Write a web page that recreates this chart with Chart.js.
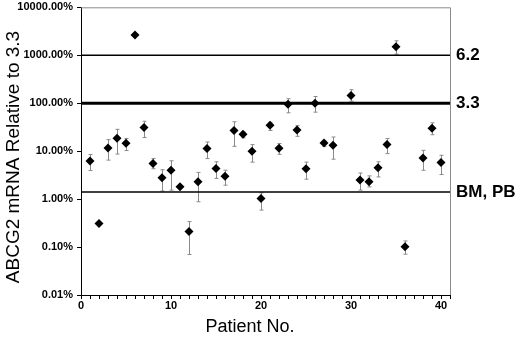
<!DOCTYPE html>
<html>
<head>
<meta charset="utf-8">
<script src="https://cdn.jsdelivr.net/npm/chart.js@4/dist/chart.umd.min.js"></script>
<style>
    html, body { margin: 0; padding: 0; background: #fff; }
    #wrap { width: 520px; height: 337px; position: relative; }
</style>
</head>
<body>
<div id="wrap"><canvas id="abcgChart"></canvas></div>
<script>
// patients 29 and 37 have no value in the figure
const patients = [1, 2, 3, 4, 5, 6, 7, 8, 9, 10, 11, 12, 13, 14, 15, 16, 17, 18, 19, 20,
    21, 22, 23, 24, 25, 26, 27, 28, 30, 31, 32, 33, 34, 35, 36, 38, 39, 40];
const expression = [6.2, 0.31, 11.7, 18.5, 14.6, 2650, 31, 5.5, 2.8, 4.0, 1.8, 0.21, 2.3, 11.3, 4.35, 3.0, 27, 22.5, 10, 1.03,
    34.5, 11.5, 95, 27.6, 4.3, 100, 14.8, 13.3, 145, 2.5, 2.3, 4.5, 13.7, 1500, 0.102, 7.2, 30, 5.8];
const errorHigh = [8.5, null, 17.4, 28.5, 18.3, null, 42, 7.0, 4.1, 6.3, 1.95, 0.34, 3.6, 15.5, 6.0, 4.0, 41, 25, 13.7, 1.35,
    40, 14.4, 124, 34, 5.9, 138, 16.5, 19.7, 191, 3.5, 3.05, 6.0, 18.3, 2000, 0.134, 10.4, 39, 8.2];
const errorLow = [3.95, null, 6.5, 8.7, 10.3, null, 19.2, 4.3, 1.47, 1.54, 1.7, 0.07, 0.88, 7.0, 2.7, 1.95, 12.6, 19, 5.9, 0.59,
    27, 8.6, 63, 20.4, 2.6, 65, 12.6, 6.8, 110, 1.54, 1.8, 2.9, 8.9, 1050, 0.071, 4.0, 22, 3.26];

const refLevels = [1000, 100, 1.4];
const refLabels = ['6.2', '3.3', 'BM, PB'];
const refWidths = [1.5, 3, 1.5];

const yTicks = [0.01, 0.1, 1, 10, 100, 1000, 10000];
const xMax = 41;
const xTitle = 'Patient No.';
const yTitle = 'ABCG2 mRNA Relative to 3.3';

Chart.defaults.font.family = '"Liberation Sans", Arial, sans-serif';
Chart.defaults.color = '#000';

const errorBars = {
    id: 'errorBars',
    beforeDatasetsDraw(chart) {
        const { ctx, scales: { x, y } } = chart;
        ctx.save();
        ctx.strokeStyle = '#8a8a8a';
        ctx.lineWidth = 1;
        patients.forEach((p, i) => {
            if (errorHigh[i] == null) return;
            const px = Math.round(x.getPixelForValue(p)) + 0.5;
            const top = y.getPixelForValue(errorHigh[i]);
            const bot = y.getPixelForValue(errorLow[i]);
            ctx.beginPath();
            ctx.moveTo(px, top); ctx.lineTo(px, bot);
            ctx.moveTo(px - 2, top); ctx.lineTo(px + 2, top);
            ctx.moveTo(px - 2, bot); ctx.lineTo(px + 2, bot);
            ctx.stroke();
        });
        ctx.restore();
    },
    afterDraw(chart) {
        const { ctx, chartArea: a, scales: { y } } = chart;
        ctx.save();
        // grey frame on top and right
        ctx.strokeStyle = '#8a8a8a';
        ctx.lineWidth = 1;
        ctx.beginPath();
        ctx.moveTo(a.left, a.top + 0.5); ctx.lineTo(a.right + 0.5, a.top + 0.5);
        ctx.lineTo(a.right + 0.5, a.bottom);
        ctx.stroke();
        // labels of the reference lines
        ctx.fillStyle = '#000';
        ctx.font = 'bold 17px "Liberation Sans", Arial, sans-serif';
        ctx.textBaseline = 'middle';
        refLevels.forEach((lvl, i) => {
            ctx.fillText(refLabels[i], a.right + 6, y.getPixelForValue(lvl));
        });
        // axis titles, a bit off-centre as in the figure
        ctx.textAlign = 'center';
        ctx.font = '18px "Liberation Sans", Arial, sans-serif';
        ctx.fillText(xTitle, a.left + 169, 327);
        ctx.translate(14, 157);
        ctx.rotate(-Math.PI / 2);
        ctx.font = '19px "Liberation Sans", Arial, sans-serif';
        ctx.fillText(yTitle, 0, 0);
        ctx.restore();
    },
};

const refSets = refLevels.map((lvl, i) => ({
    type: 'line',
    data: [{ x: 0, y: lvl }, { x: xMax, y: lvl }],
    borderColor: '#000',
    borderWidth: refWidths[i],
    pointRadius: 0,
    fill: false,
}));

new Chart(document.getElementById('abcgChart'), {
    type: 'scatter',
    data: {
        datasets: [{
            data: patients.map((p, i) => ({ x: p, y: expression[i] })),
            pointStyle: 'rectRot',
            pointRadius: 4.5,
            backgroundColor: '#000',
            borderColor: '#000',
            borderWidth: 0,
        }, ...refSets],
    },
    options: {
        responsive: true,
        maintainAspectRatio: false,
        animation: false,
        layout: { padding: { top: 6, right: 70, left: 0, bottom: 0 } },
        plugins: { legend: { display: false }, tooltip: { enabled: false } },
        scales: {
            x: {
                type: 'linear',
                min: 0,
                max: xMax,
                border: { color: '#000', width: 1 },
                grid: { drawOnChartArea: false, tickLength: 4, color: '#000' },
                ticks: {
                    stepSize: 1,
                    autoSkip: false,
                    maxRotation: 0,
                    padding: 0,
                    font: { size: 11, weight: 'bold' },
                    callback: (v) => (v % 10 === 0 ? v : ''),
                },
                afterFit: (s) => { s.height = 42; },
            },
            y: {
                type: 'logarithmic',
                min: 0.01,
                max: 10000,
                border: { color: '#000', width: 1 },
                grid: { drawOnChartArea: false, tickLength: 4, color: '#000' },
                afterBuildTicks: (s) => { s.ticks = yTicks.map((v) => ({ value: v })); },
                ticks: {
                    padding: 4,
                    font: { size: 11, weight: 'bold', lineHeight: 0.6 },
                    callback: (v) => v.toFixed(2) + '%',
                },
                afterFit: (s) => { s.width = 81; },
            },
        },
    },
    plugins: [errorBars],
});
</script>
</body>
</html>
